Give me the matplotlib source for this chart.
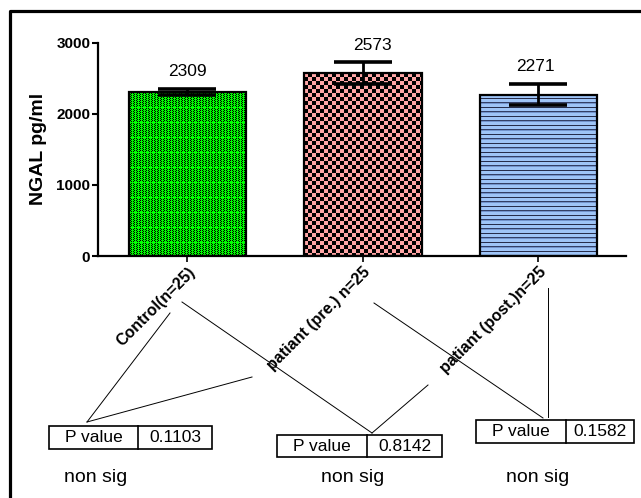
import numpy as np
import matplotlib
matplotlib.use("Agg")
import matplotlib.pyplot as plt
from matplotlib.lines import Line2D
from matplotlib.patches import Rectangle

plt.rcParams['font.family'] = ['Liberation Sans', 'DejaVu Sans']

# data
groups = ['Control(n=25)', 'patiant (pre.) n=25', 'patiant (post.)n=25']
means = [2309, 2573, 2271]
sems = [40, 150, 150]
p_values = ['0.1103', '0.8142', '0.1582']
sig_text = ['non sig', 'non sig', 'non sig']

W, H = 641, 498
fig = plt.figure(figsize=(W / 100, H / 100), dpi=100)
ax = fig.add_axes([98 / W, 1 - 256 / H, 528 / W, (256 - 42.7) / H])
ax.set_zorder(1)
ax.patch.set_alpha(0)


def fp(x, y):
    # pixel (from top-left) -> figure fraction
    return x / W, 1 - y / H


x = np.arange(len(groups))
bars = ax.bar(x, means, width=0.67, facecolor='none', edgecolor='black',
              linewidth=1.6, zorder=3)
ax.errorbar(x, means, yerr=sems, fmt='none', ecolor='black', elinewidth=2,
            capsize=21, capthick=2.6, zorder=4)
ax.set_xlim(-0.51, 2.5)
ax.set_ylim(0, 3000)


# bar fill textures, one texel per screen pixel
def tex_green(h, w):
    r, c = np.mgrid[0:h, 0:w]
    img = np.zeros((h, w, 3))
    img[:] = (0, 1, 0)
    blk = ((r + c) % 2 == 1) & (c % 3 != 0) & (r % 15 != 0)
    img[blk] = (0, 0, 0)
    return img


def tex_pink(h, w):
    r, c = np.mgrid[0:h, 0:w]
    img = np.zeros((h, w, 3))
    img[((r // 4 + c // 4) % 2 == 0)] = (1, 0.65, 0.65)
    return img


def tex_blue(h, w):
    r, c = np.mgrid[0:h, 0:w]
    img = np.zeros((h, w, 3))
    img[:] = (0.62, 0.77, 0.97)
    img[(r % 9 == 3)] = (0.15, 0.18, 0.30)
    img[(r % 9 == 7)] = (0.20, 0.25, 0.40)
    img[(r % 9 == 8)] = (0.45, 0.58, 0.80)
    return img


texfuncs = [tex_green, tex_pink, tex_blue]
for b, tf in zip(bars, texfuncs):
    x0, y0, bw, bh = b.get_x(), b.get_y(), b.get_width(), b.get_height()
    p0 = ax.transData.transform((x0, y0))
    p1 = ax.transData.transform((x0 + bw, y0 + bh))
    ix0, iy0 = int(round(p0[0])), int(round(p0[1]))
    pw, ph = int(round(p1[0])) - ix0, int(round(p1[1])) - iy0
    fig.figimage(tf(ph, pw), xo=ix0, yo=iy0, origin='upper', zorder=0)

# value labels
label_dx = [0, 7, -2]
for xi, m, s, dx in zip(x, means, sems, label_dx):
    ax.annotate(str(m), (xi, m + s), xytext=(dx, 7), textcoords='offset points',
                ha='center', va='bottom', fontsize=12.5)

# axes styling
for sp in ['top', 'right']:
    ax.spines[sp].set_visible(False)
for sp in ['left', 'bottom']:
    ax.spines[sp].set_linewidth(1.6)
ax.set_yticks([0, 1000, 2000, 3000])
ax.tick_params(axis='y', length=4, width=1.5, pad=1.5, labelsize=11)
for t in ax.get_yticklabels():
    t.set_fontweight('bold')
ax.set_xticks(x)
ax.set_xticklabels(groups, rotation=45, ha='right', rotation_mode='anchor',
                   fontsize=11.5, fontweight='bold')
ax.tick_params(axis='x', length=4, width=1.2, pad=2)
ax.set_ylabel('NGAL pg/ml', fontsize=14, fontweight='bold', labelpad=7)

# outer frame (left and top)
fig.add_artist(Line2D([10 / W, 10 / W, 1], [0, 1 - 11.5 / H, 1 - 11.5 / H],
                      transform=fig.transFigure, color='black', linewidth=2.3))

# connector lines
links = [((170, 313), (87, 422)), ((87, 422), (252, 377)),
         ((182, 302), (372, 433)), ((372, 433), (428, 385)),
         ((374, 303), (543, 418)), ((548, 288), (548, 417))]
for a, b in links:
    (ax_, ay_), (bx_, by_) = fp(*a), fp(*b)
    fig.add_artist(Line2D([ax_, bx_], [ay_, by_], transform=fig.transFigure,
                          color='black', linewidth=0.7))

# p value tables
tables = [(49, 138, 212, 426, 449), (277, 367, 442, 435, 457),
          (476, 566, 634, 420, 443)]
sig_x = [96, 353, 538]
for (xl, xd, xr, yt, yb), pv, st, sx in zip(tables, p_values, sig_text, sig_x):
    lx, ly = fp(xl, yb)
    fig.add_artist(Rectangle((lx, ly), (xr - xl) / W, (yb - yt) / H,
                             transform=fig.transFigure, facecolor='white',
                             edgecolor='black', linewidth=1.2))
    dx0, dy0 = fp(xd, yt)
    dx1, dy1 = fp(xd, yb)
    fig.add_artist(Line2D([dx0, dx1], [dy0, dy1], transform=fig.transFigure,
                          color='black', linewidth=1.2))
    fig.text(*fp((xl + xd) / 2, (yt + yb) / 2), 'P value', ha='center',
             va='center', fontsize=12.5)
    fig.text(*fp((xd + xr) / 2, (yt + yb) / 2), pv, ha='center',
             va='center', fontsize=12.5)
    fig.text(*fp(sx, 477), st, ha='center', va='center', fontsize=14)

fig.savefig('out.png', dpi=100)
